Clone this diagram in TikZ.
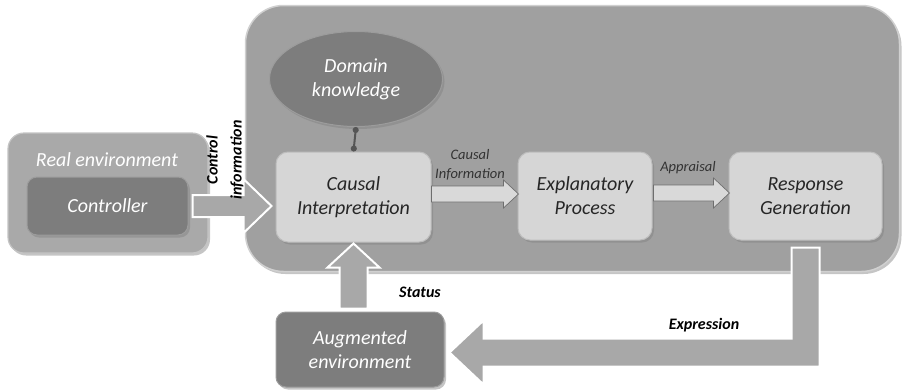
\documentclass[tikz,border=0pt]{standalone}
\usepackage{fontspec}
\setmainfont{Carlito}
\usetikzlibrary{calc,shadows,shapes.geometric,arrows.meta}
\definecolor{contfill}{HTML}{A0A0A0}
\definecolor{contdraw}{HTML}{D0D0D0}
\definecolor{envfill}{HTML}{A9A9A9}
\definecolor{envdraw}{HTML}{C4C4C4}
\definecolor{darkfill}{HTML}{7D7D7D}
\definecolor{darkdraw}{HTML}{9C9C9C}
\definecolor{lightfill}{HTML}{D6D6D6}
\definecolor{lightdraw}{HTML}{BDBDBD}
\definecolor{barfill}{HTML}{A8A8A8}
\definecolor{sarfill}{HTML}{D9D9D9}
\definecolor{sardraw}{HTML}{6E6E6E}
\definecolor{linkcol}{HTML}{555555}
\tikzset{
  shad/.style={drop shadow={shadow xshift=2pt,shadow yshift=-2.5pt,opacity=0.45}},
  bigtext/.style={font=\itshape\fontsize{20}{24}\selectfont,align=center},
  container/.style={rounded corners=38pt,fill=contfill,draw=contdraw,line width=1.5pt,inner sep=0pt,shad},
  envbox/.style={rounded corners=16pt,fill=envfill,draw=envdraw,line width=1.2pt,inner sep=0pt,shad},
  darkbox/.style={rounded corners=10pt,fill=darkfill,draw=darkdraw,line width=1pt,inner sep=0pt,text=white,bigtext,shad},
  lightbox/.style={rounded corners=12pt,fill=lightfill,draw=lightdraw,line width=1pt,inner sep=0pt,text=black!85,bigtext,shad},
  dkell/.style={ellipse,fill=darkfill,draw=darkdraw,line width=1pt,inner sep=0pt,text=white,bigtext,shad},
  barrow/.style={fill=barfill,draw=white,line width=2pt,line join=miter},
  sarrow/.style={fill=sarfill,draw=sardraw,line width=0.7pt,line join=miter},
  smalllab/.style={font=\itshape\fontsize{14.5}{19}\selectfont,text=black!80,align=center},
  boldlab/.style={font=\bfseries\itshape\fontsize{16}{24}\selectfont,text=black,align=center},
  link/.style={draw=linkcol,line width=2pt,{Circle[length=6pt]}-{Circle[length=6pt]}}
}
\begin{document}
\begin{tikzpicture}[x=1pt,y=-1pt]
\useasboundingbox (0,0) rectangle (903,389);
\fill[white] (0,0) rectangle (903,389);

% container
\node[container,minimum width=654pt,minimum height=266pt] (sys) at (572.5,138.5) {};

% real environment
\node[envbox,minimum width=200pt,minimum height=120pt] (env) at (108,193) {};
\node[bigtext,text=white] (envlab) at (107,160) {Real environment};
\node[darkbox,minimum width=161pt,minimum height=58pt] (ctrl) at (107.5,206) {Controller};

% main boxes
\node[lightbox,minimum width=155pt,minimum height=90pt] (ci) at (353.5,197) {Causal\\Interpretation};
\node[lightbox,minimum width=134pt,minimum height=88pt] (ep) at (585,196) {Explanatory\\Process};
\node[lightbox,minimum width=153pt,minimum height=88pt] (rg) at (805.5,196) {Response\\Generation};
\node[dkell,minimum width=173pt,minimum height=95pt] (dk) at (356,79) {Domain\\knowledge};
\node[darkbox,minimum width=168pt,minimum height=75pt] (ae) at (360,349.5) {Augmented\\environment};

% link
\draw[link] (dk.south) -- (ci.north);

% control information arrow
\draw[barrow] let \p1=(ctrl.east), \p2=(ci.west) in
  (\x1+4pt,\y1+11pt) -- (\x2-32pt,\y1+11pt) -- (\x2-32pt,\y1+27pt) -- (\x2-4pt,\y1)
  -- (\x2-32pt,\y1-27pt) -- (\x2-32pt,\y1-11pt) -- (\x1+4pt,\y1-11pt) -- cycle;

% causal information arrow
\draw[sarrow] let \p1=(ci.east), \p2=(ep.west) in
  (\x1,\y1+11pt) -- (\x2-14pt,\y1+11pt) -- (\x2-14pt,\y1+17pt) -- (\x2+1pt,\y1+3pt)
  -- (\x2-14pt,\y1-11pt) -- (\x2-14pt,\y1-5pt) -- (\x1,\y1-5pt) -- cycle;

% appraisal arrow
\draw[sarrow] let \p1=(ep.east), \p2=(rg.west) in
  (\x1+1pt,\y1+11pt) -- (\x2-15pt,\y1+11pt) -- (\x2-15pt,\y1+18pt) -- (\x2+1pt,\y1+3pt)
  -- (\x2-15pt,\y1-12pt) -- (\x2-15pt,\y1-5pt) -- (\x1+1pt,\y1-5pt) -- cycle;

% status arrow
\draw[barrow] let \p1=(ae.north), \p2=(ci.south) in
  (\x2-14pt,\y1+3pt) -- (\x2-14pt,\y2-25pt) -- (\x2-26pt,\y2-25pt) -- (\x2,\y2-1pt)
  -- (\x2+26pt,\y2-25pt) -- (\x2+14pt,\y2-25pt) -- (\x2+14pt,\y1+3pt) -- cycle;

% expression arrow
\draw[barrow] let \p1=(rg.south), \p2=(ae.east) in
  (\x1-14pt,\y1-7pt) -- (\x1+14pt,\y1-7pt) -- (\x1+14pt,\y2-17pt) -- (\x2+39pt,\y2-17pt)
  -- (\x2+39pt,\y2-35pt) -- (\x2+5pt,\y2-3pt) -- (\x2+39pt,\y2+29pt) -- (\x2+39pt,\y2+11pt)
  -- (\x1-14pt,\y2+11pt) -- cycle;

% labels
\node[boldlab,rotate=90] (ctrllab) at (225,160) {Control\\information};
\node[smalllab] (cilab) at (470,165) {Causal\\Information};
\node[smalllab] (aplab) at (688,168) {Appraisal};
\node[boldlab] (stlab) at (420,292) {Status};
\node[boldlab] (exlab) at (704,325) {Expression};
\end{tikzpicture}
\end{document}
